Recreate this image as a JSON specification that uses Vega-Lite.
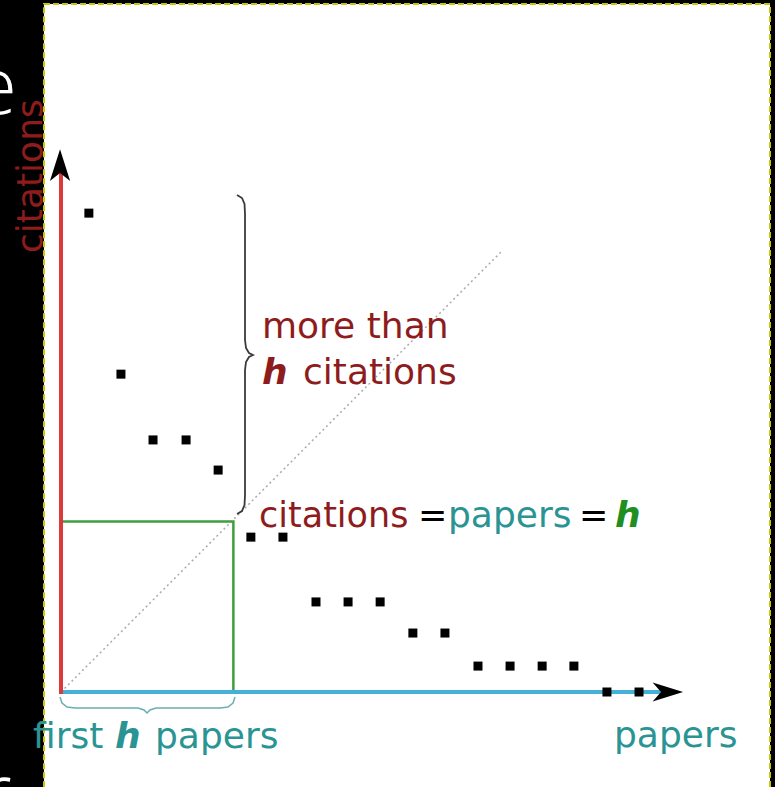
{
  "$schema": "https://vega.github.io/schema/vega-lite/v6.json",
  "width": 775,
  "height": 787,
  "autosize": {"type": "fit", "contains": "padding"},
  "padding": 0,
  "background": "black",
  "config": {"view": {"stroke": null}},
  "encoding": {
    "x": {"field": "x", "type": "quantitative", "scale": {"domain": [-1.883, 22.037], "nice": false, "zero": false}, "axis": null},
    "y": {"field": "y", "type": "quantitative", "scale": {"domain": [-2.932, 21.358], "nice": false, "zero": false}, "axis": null}
  },
  "layer": [
    {
      "data": {"values": [{"x": -0.525, "x2": 21.883, "y": 21.235, "y2": -4}]},
      "mark": {"type": "rect", "fill": "white", "stroke": "#c8c800", "strokeWidth": 2, "strokeDash": [6, 3], "clip": true},
      "encoding": {"x2": {"field": "x2"}, "y2": {"field": "y2"}}
    },
    {
      "data": {"values": [{"label": "e", "x": -1.36, "y": 17.84}, {"label": "r", "x": -1.52, "y": -3.95}]},
      "mark": {"type": "text", "color": "white", "font": "Open Sans", "fontWeight": 300, "fontSize": 80, "align": "right", "baseline": "alphabetic", "clip": true},
      "encoding": {"text": {"field": "label"}}
    },
    {
      "data": {"values": [{"x": 0, "y": 0, "o": 0}, {"x": 13.6, "y": 13.6, "o": 1}]},
      "mark": {"type": "line", "stroke": "#aaaaaa", "strokeWidth": 1.5, "strokeDash": [2, 3]},
      "encoding": {"order": {"field": "o"}}
    },
    {
      "data": {"values": [{"x": 0, "y": 5.26, "o": 0}, {"x": 5.32, "y": 5.26, "o": 1}, {"x": 5.32, "y": 0, "o": 2}]},
      "mark": {"type": "line", "stroke": "#3f9f3f", "strokeWidth": 2.5},
      "encoding": {"order": {"field": "o"}}
    },
    {
      "data": {"values": [
        {"x": 5.432, "y": 15.340, "o": 0},
        {"x": 5.586, "y": 15.247, "o": 1},
        {"x": 5.664, "y": 15.062, "o": 2},
        {"x": 5.679, "y": 14.753, "o": 3},
        {"x": 5.679, "y": 10.864, "o": 4},
        {"x": 5.710, "y": 10.617, "o": 5},
        {"x": 5.802, "y": 10.463, "o": 6},
        {"x": 5.926, "y": 10.401, "o": 7},
        {"x": 5.802, "y": 10.340, "o": 8},
        {"x": 5.710, "y": 10.185, "o": 9},
        {"x": 5.679, "y": 9.938, "o": 10},
        {"x": 5.679, "y": 6.080, "o": 11},
        {"x": 5.664, "y": 5.772, "o": 12},
        {"x": 5.586, "y": 5.586, "o": 13},
        {"x": 5.432, "y": 5.494, "o": 14}
      ]},
      "mark": {"type": "line", "stroke": "#3a3a3a", "strokeWidth": 1.8, "interpolate": "linear"},
      "encoding": {"order": {"field": "o"}}
    },
    {
      "data": {"values": [
        {"x": -0.031, "y": -0.154, "o": 0},
        {"x": 0.031, "y": -0.340, "o": 1},
        {"x": 0.185, "y": -0.463, "o": 2},
        {"x": 0.432, "y": -0.494, "o": 3},
        {"x": 2.377, "y": -0.494, "o": 4},
        {"x": 2.562, "y": -0.556, "o": 5},
        {"x": 2.654, "y": -0.648, "o": 6},
        {"x": 2.747, "y": -0.556, "o": 7},
        {"x": 2.932, "y": -0.494, "o": 8},
        {"x": 4.907, "y": -0.494, "o": 9},
        {"x": 5.154, "y": -0.463, "o": 10},
        {"x": 5.309, "y": -0.340, "o": 11},
        {"x": 5.370, "y": -0.154, "o": 12}
      ]},
      "mark": {"type": "line", "stroke": "#6aafaf", "strokeWidth": 1.5, "interpolate": "linear"},
      "encoding": {"order": {"field": "o"}}
    },
    {
      "data": {"values": [{"x": 0, "y": 0, "x2": 18.55}]},
      "mark": {"type": "rule", "stroke": "#45b0d8", "strokeWidth": 4},
      "encoding": {"x2": {"field": "x2"}}
    },
    {
      "data": {"values": [{"x": 0, "y": -0.06, "y2": 16.05}]},
      "mark": {"type": "rule", "stroke": "#dc3a3a", "strokeWidth": 4},
      "encoding": {"y2": {"field": "y2"}}
    },
    {
      "data": {"values": [{"x": -0.03, "y": 16.26}]},
      "mark": {"type": "point", "shape": "M0,-1L0.64,1L0,0.5L-0.64,1Z", "size": 1000, "filled": true, "color": "black", "opacity": 1}
    },
    {
      "data": {"values": [{"x": 18.73, "y": 0}]},
      "mark": {"type": "point", "shape": "M1,0L-1,0.62L-0.45,0L-1,-0.62Z", "size": 930, "filled": true, "color": "black", "opacity": 1}
    },
    {
      "data": {"values": [
        {"x": 0.86, "y": 14.78}, {"x": 1.85, "y": 9.81}, {"x": 2.84, "y": 7.78}, {"x": 3.86, "y": 7.78},
        {"x": 4.85, "y": 6.85}, {"x": 5.86, "y": 4.78}, {"x": 6.85, "y": 4.78}, {"x": 7.87, "y": 2.78},
        {"x": 8.86, "y": 2.78}, {"x": 9.85, "y": 2.78}, {"x": 10.86, "y": 1.82}, {"x": 11.85, "y": 1.82},
        {"x": 12.87, "y": 0.80}, {"x": 13.86, "y": 0.80}, {"x": 14.85, "y": 0.80}, {"x": 15.83, "y": 0.80},
        {"x": 16.85, "y": 0}, {"x": 17.84, "y": 0}
      ]},
      "mark": {"type": "square", "size": 81, "color": "black", "opacity": 1}
    },
    {
      "data": {"values": [
        {"label": "more than", "x": 6.204, "y": 10.926},
        {"label": "citations", "x": 7.469, "y": 9.506}
      ]},
      "mark": {"type": "text", "color": "#8e1c1c", "font": "DejaVu Sans", "fontSize": 36, "align": "left", "baseline": "alphabetic"},
      "encoding": {"text": {"field": "label"}}
    },
    {
      "data": {"values": [
        {"label": "citations", "x": 6.111, "y": 5.093}
      ]},
      "mark": {"type": "text", "color": "#8e1c1c", "font": "DejaVu Sans", "fontSize": 35, "align": "left", "baseline": "alphabetic"},
      "encoding": {"text": {"field": "label"}}
    },
    {
      "data": {"values": [{"label": "citations", "x": -0.60, "y": 13.55}]},
      "mark": {"type": "text", "color": "#8e1c1c", "font": "DejaVu Sans", "fontSize": 36, "align": "left", "baseline": "alphabetic", "angle": 270},
      "encoding": {"text": {"field": "label"}}
    },
    {
      "data": {"values": [{"label": "h", "x": 6.204, "y": 9.506}]},
      "mark": {"type": "text", "color": "#8e1c1c", "font": "DejaVu Sans", "fontSize": 36, "fontWeight": "bold", "fontStyle": "italic", "align": "left", "baseline": "alphabetic"},
      "encoding": {"text": {"field": "label"}}
    },
    {
      "data": {"values": [{"label": "=", "x": 11.02, "y": 5.093}, {"label": "=", "x": 15.99, "y": 5.093}]},
      "mark": {"type": "text", "color": "black", "font": "DejaVu Sans", "fontSize": 35, "align": "left", "baseline": "alphabetic"},
      "encoding": {"text": {"field": "label"}}
    },
    {
      "data": {"values": [
        {"label": "papers", "x": 11.944, "y": 5.093},
        {"label": "first", "x": -0.864, "y": -1.728},
        {"label": "papers", "x": 2.901, "y": -1.728},
        {"label": "papers", "x": 17.068, "y": -1.698}
      ]},
      "mark": {"type": "text", "color": "#2a9494", "font": "DejaVu Sans", "fontSize": 36, "align": "left", "baseline": "alphabetic"},
      "encoding": {"text": {"field": "label"}}
    },
    {
      "data": {"values": [{"label": "h", "x": 1.667, "y": -1.728}]},
      "mark": {"type": "text", "color": "#2a9494", "font": "DejaVu Sans", "fontSize": 36, "fontWeight": "bold", "fontStyle": "italic", "align": "left", "baseline": "alphabetic"},
      "encoding": {"text": {"field": "label"}}
    },
    {
      "data": {"values": [{"label": "h", "x": 17.099, "y": 5.093}]},
      "mark": {"type": "text", "color": "#1f8f1f", "font": "DejaVu Sans", "fontSize": 36, "fontWeight": "bold", "fontStyle": "italic", "align": "left", "baseline": "alphabetic"},
      "encoding": {"text": {"field": "label"}}
    }
  ]
}
